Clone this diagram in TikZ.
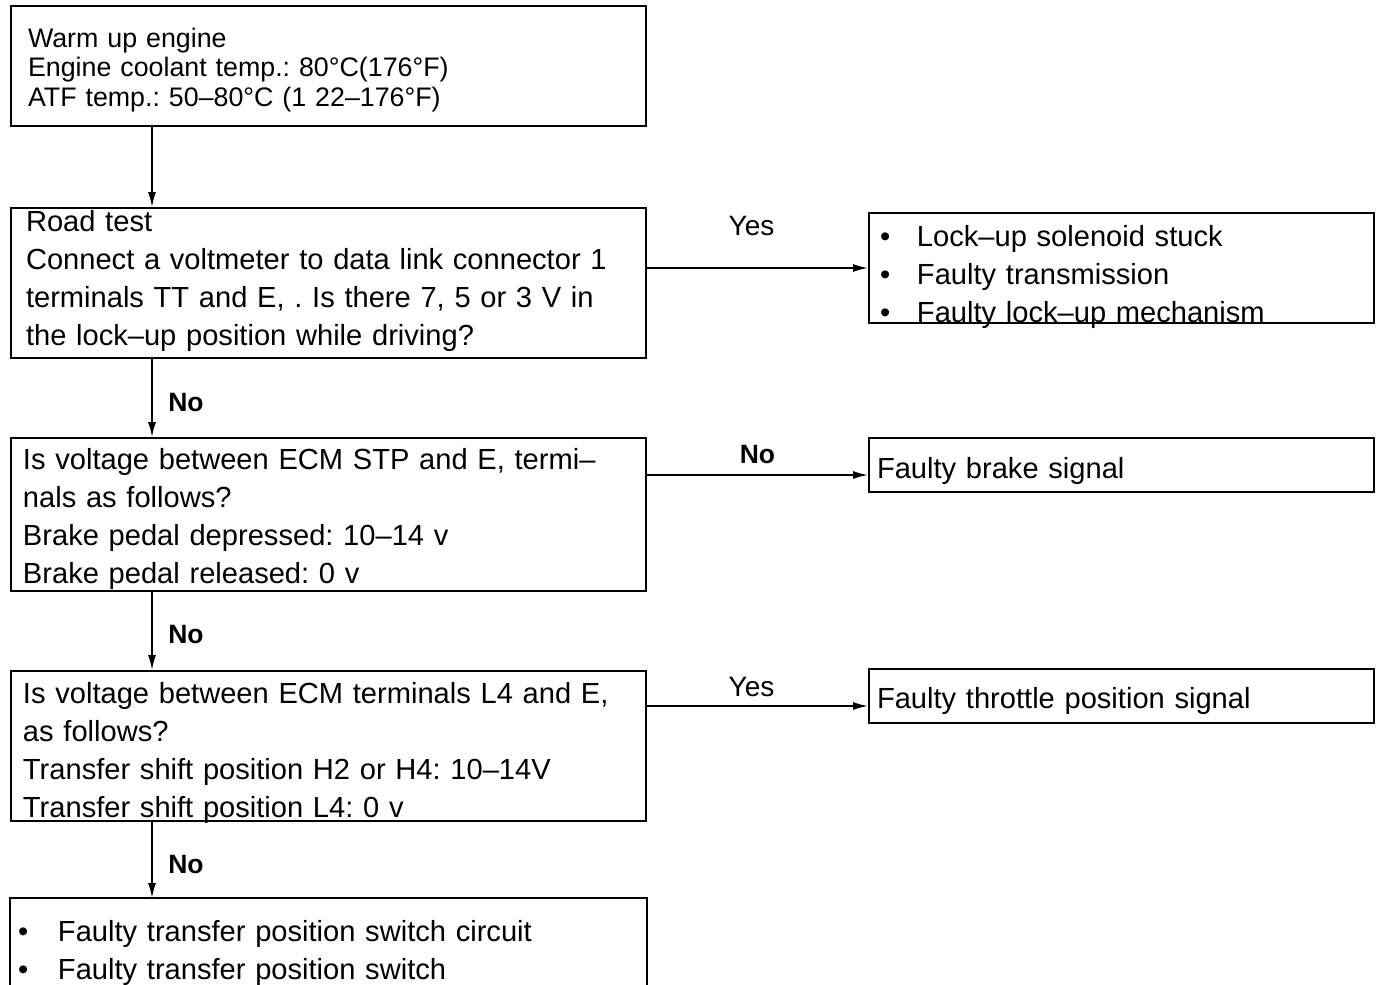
\documentclass[tikz,border=0pt]{standalone}
\usepackage{fontspec}
\setmainfont{Liberation Sans}
\usetikzlibrary{arrows.meta}
\usetikzlibrary{positioning}
\frenchspacing

\newcommand{\bodyfont}{\fontsize{29.1pt}{38pt}\selectfont}
\newcommand{\headfont}{\fontsize{26.8pt}{29.5pt}\selectfont}
\newcommand{\bul}[1]{\makebox[#1][l]{\textbullet}}

\tikzset{
  chkbox/.style={draw, line width=2pt, anchor=north west, align=left, inner ysep=0pt, font=\bodyfont},
  flowarr/.style={line width=1.6pt, -{Latex[length=15pt,width=8pt]}},
  yesno/.style={inner sep=0pt, font=\fontsize{28pt}{30pt}\selectfont},
  nolbl/.style={inner sep=0pt, font=\fontsize{26.5pt}{30pt}\selectfont\bfseries},
}

\begin{document}
\begin{tikzpicture}[x=1pt,y=-1pt]
\useasboundingbox (0,0) rectangle (1377,985);
% left column
\node[chkbox, font=\headfont, inner xsep=17pt, text width=601pt, text height=41pt, text depth=79pt] (warm) at (10,5)
  {Warm up engine\\Engine coolant temp.: 80°C(176°F)\\ATF temp.: 50–80°C (1 22–176°F)};
\node[chkbox, inner xsep=15pt, text width=605pt, text height=23pt, text depth=127pt] (road) at (10,207)
  {Road test\\Connect a voltmeter to data link connector 1\\terminals TT and E, . Is there 7, 5 or 3 V in\\the lock–up position while driving?};
\node[chkbox, inner xsep=12pt, text width=611pt, text height=31pt, text depth=122pt] (stp) at (10,437)
  {Is voltage between ECM STP and E, termi–\\nals as follows?\\Brake pedal depressed: 10–14 v\\Brake pedal released: 0 v};
\node[chkbox, inner xsep=12pt, text width=611pt, text height=32pt, text depth=118pt] (lfour) at (10,670)
  {Is voltage between ECM terminals L4 and E,\\as follows?\\Transfer shift position H2 or H4: 10–14V\\Transfer shift position L4: 0 v};
\node[chkbox, draw=none, inner xsep=7pt, text width=621pt, text height=42pt, text depth=45pt] (xfer) at (10,898)
  {\bul{40pt}Faulty transfer position switch circuit\\\bul{40pt}Faulty transfer position switch};
\draw[line width=2pt] (xfer.south west) -- (xfer.north west) -- (xfer.north east) -- (xfer.south east);

% right column
\node[chkbox, inner xsep=11pt, text width=483pt, text height=33pt, text depth=77pt] (lock) at (868,212)
  {\bul{37pt}Lock–up solenoid stuck\\\bul{37pt}Faulty transmission\\\bul{37pt}Faulty lock–up mechanism};
\node[chkbox, inner xsep=8pt, text width=489pt, text height=40pt, text depth=14pt] (brake) at (868,437)
  {Faulty brake signal};
\node[chkbox, inner xsep=8pt, text width=489pt, text height=39pt, text depth=15pt] (tps) at (868,668)
  {Faulty throttle position signal};

% connectors
\coordinate (spine) at (152,0);
\coordinate (brkin) at (868,475);
\coordinate (tpsin) at (868,706);
\draw[flowarr] (warm.south -| spine) -- (road.north -| spine);
\draw[flowarr] (road.south -| spine) -- node[nolbl, midway, xshift=34pt, yshift=-5pt] (no1) {No} (stp.north -| spine);
\draw[flowarr] (stp.south -| spine) -- node[nolbl, midway, xshift=34pt, yshift=-4pt] (no2) {No} (lfour.north -| spine);
\draw[flowarr] (lfour.south -| spine) -- node[nolbl, midway, xshift=34pt, yshift=-5pt] (no3) {No} (xfer.north -| spine);
\draw[flowarr] (road.east |- lock.west) -- node[yesno, midway, xshift=-6pt, yshift=42pt] (yes1) {Yes} (lock.west);
\draw[flowarr] (stp.east |- brkin) -- node[nolbl, midway, yshift=20pt] (no4) {No} (brkin);
\draw[flowarr] (lfour.east |- tpsin) -- node[yesno, midway, xshift=-6pt, yshift=19pt] (yes2) {Yes} (tpsin);
\end{tikzpicture}
\end{document}
